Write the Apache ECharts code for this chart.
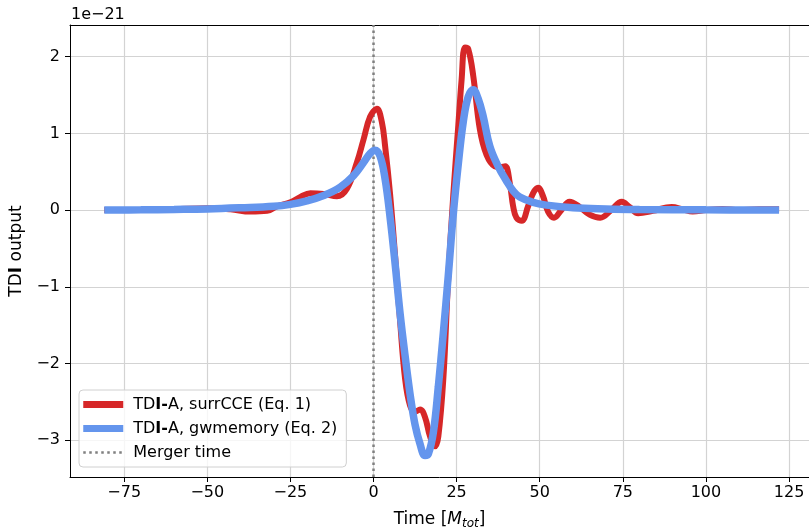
<!DOCTYPE html>
<html>
<head>
<meta charset="utf-8">
<script src="https://cdn.jsdelivr.net/npm/echarts@6/dist/echarts.min.js"></script>
<style>
  html, body { margin: 0; padding: 0; background: #fff; }
  #chart { width: 809px; height: 528px; }
</style>
</head>
<body>
<div id="chart"></div>
<script>
// values are in units of 1e-21
var surrT = [-81,-70,-60,-50,-43,-37,-32,-29,-25,-22,-19,-15,-11,-8,-5,-3,-1,1,2.5,3.5,5,6.5,8,9.5,11,12.5,14,15.5,17,18.5,19.5,21,22.4,24,25.5,26.5,27.5,28.5,30,32,34,36.5,38,39.6,41,42,43,44.6,46.5,48,49.5,51,52.5,54.3,56.5,59,62,65,68.2,71.5,74.7,77,79.6,84,89.7,93,96,100,105,110,116,122];
var surrV = [0,0,0.01,0.025,0.01,-0.02,-0.01,0.05,0.1,0.17,0.22,0.21,0.18,0.28,0.62,0.92,1.22,1.32,1.15,0.83,0.2,-0.6,-1.45,-2.2,-2.55,-2.63,-2.6,-2.7,-2.95,-3.08,-2.95,-2.2,-0.95,0.2,1.1,1.7,2.12,2.1,1.75,1.05,0.72,0.57,0.56,0.57,0.35,0.05,-0.1,-0.14,0.05,0.22,0.29,0.18,-0.02,-0.1,0.0,0.11,0.04,-0.06,-0.1,0.0,0.11,0.04,-0.04,-0.01,0.04,0.01,-0.02,0.0,0.015,0.0,0.01,0.01];

var memT = [-81,-70,-60,-50,-40,-30,-25,-20,-15,-10,-6,-3,-1,0.5,2,3.5,5,6.5,8,9.5,11,12.5,14,15.5,16.5,18,19.5,21,22.5,24,25.5,27,28.5,30,31.5,33,35,37.5,40,42,44,48,52,60,70,80,100,122];
var memV = [0,0.003,0.008,0.015,0.03,0.05,0.075,0.12,0.19,0.3,0.45,0.62,0.74,0.78,0.7,0.4,-0.1,-0.7,-1.35,-1.9,-2.4,-2.8,-3.05,-3.2,-3.18,-2.9,-2.3,-1.6,-0.85,-0.05,0.6,1.15,1.48,1.57,1.45,1.22,0.83,0.57,0.38,0.25,0.17,0.1,0.065,0.03,0.015,0.008,0.003,0.002];

var mergerTime = [0];

var xTicks = [-75, -50, -25, 0, 25, 50, 75, 100, 125];
var yTicks = [-3, -2, -1, 0, 1, 2];

var nameSurr = 'TDI-A, surrCCE (Eq. 1)';
var nameMem = 'TDI-A, gwmemory (Eq. 2)';
var nameMerger = 'Merger time';

var xMin = -91.3, xMax = 131;
var yMin = -3.48, yMax = 2.413;

function pairs(t, v) {
  var out = [];
  for (var i = 0; i < t.length; i++) out.push([t[i], v[i]]);
  return out;
}
function minus(v) { return String(v).replace('-', '\u2212'); }

var FONT = 'DejaVu Sans';
var chart = echarts.init(document.getElementById('chart'));

var option = {
  animation: false,
  backgroundColor: '#fff',
  grid: { left: 70, top: 25, right: 0, bottom: 51, containLabel: false, outerBoundsMode: 'none' },
  graphic: [{
    type: 'text', left: 71, top: 7,
    style: { text: '1e\u221221', font: '16px "DejaVu Sans"', fill: '#000' }
  }],
  legend: {
    orient: 'vertical',
    left: 79, top: 390,
    padding: [5, 9, 5, 3],
    itemGap: 5,
    itemWidth: 40, itemHeight: 7,
    backgroundColor: 'rgba(255,255,255,0.8)',
    borderColor: '#d0d0d0', borderWidth: 1, borderRadius: 4,
    data: [
      { name: nameSurr, icon: 'rect' },
      { name: nameMem, icon: 'rect' },
      { name: nameMerger, itemStyle: { color: 'rgba(0,0,0,0)', borderWidth: 0 },
        lineStyle: { color: '#808080', width: 2.5, type: [2.5, 3.5] } }
    ],
    formatter: function (n) { return n.replace('TDI-A', 'TD{b|I-}A'); },
    textStyle: {
      fontFamily: FONT, fontSize: 16, lineHeight: 19, color: '#000', padding: [0, 0, 0, 5],
      rich: { b: { fontFamily: FONT, fontSize: 16, lineHeight: 19, fontWeight: 'bold', color: '#000' } }
    }
  },
  xAxis: [{
    type: 'value', min: xMin, max: xMax,
    name: 'Time [{i|M}{s|tot}]',
    nameLocation: 'middle', nameGap: 33,
    nameTextStyle: {
      fontFamily: FONT, fontSize: 17, color: '#000',
      rich: {
        i: { fontFamily: FONT, fontSize: 17, fontStyle: 'italic', color: '#000' },
        s: { fontFamily: FONT, fontSize: 12, fontStyle: 'italic', color: '#000', verticalAlign: 'bottom', padding: [8, 0, 0, 0] }
      }
    },
    axisLine: { show: true, onZero: false, lineStyle: { color: '#000', width: 1 } },
    axisTick: { show: true, length: 5, customValues: xTicks, lineStyle: { color: '#000', width: 1 } },
    axisLabel: { customValues: xTicks, margin: 8, fontFamily: FONT, fontSize: 16, color: '#000', formatter: minus },
    splitLine: { show: true, lineStyle: { color: '#d3d3d3', width: 1.2 } }
  }, {
    type: 'value', position: 'top', min: xMin, max: xMax,
    axisLine: { show: true, onZero: false, lineStyle: { color: '#000', width: 1 } },
    axisTick: { show: false }, axisLabel: { show: false }, splitLine: { show: false }
  }],
  yAxis: {
    type: 'value', min: yMin, max: yMax,
    name: 'TD{b|I} output',
    nameLocation: 'middle', nameGap: 44, nameRotate: 90,
    nameTextStyle: {
      fontFamily: FONT, fontSize: 17, color: '#000',
      rich: { b: { fontFamily: FONT, fontSize: 17, fontWeight: 'bold', color: '#000' } }
    },
    axisLine: { show: true, onZero: false, lineStyle: { color: '#000', width: 1 } },
    axisTick: { show: true, length: 5, customValues: yTicks, lineStyle: { color: '#000', width: 1 } },
    axisLabel: { customValues: yTicks, margin: 10, fontFamily: FONT, fontSize: 16, color: '#000', formatter: minus },
    splitLine: { show: true, lineStyle: { color: '#d3d3d3', width: 1.2 } }
  },
  series: [{
    name: nameMerger, type: 'line', xAxisIndex: 0, symbol: 'none', z: 1,
    data: [[mergerTime[0], yMin], [mergerTime[0], yMax]],
    lineStyle: { color: '#808080', width: 2.5, type: [2.5, 3.5] },
    itemStyle: { color: '#808080' }
  }, {
    name: nameSurr, type: 'line', xAxisIndex: 0, symbol: 'none', smooth: 0.4, z: 2,
    data: pairs(surrT, surrV),
    lineStyle: { color: '#d62728', width: 6 },
    itemStyle: { color: '#d62728' }
  }, {
    name: nameMem, type: 'line', xAxisIndex: 0, symbol: 'none', smooth: 0.4, z: 3,
    data: pairs(memT, memV),
    lineStyle: { color: '#6495ed', width: 7.5 },
    itemStyle: { color: '#6495ed' }
  }]
};
chart.setOption(option);
</script>
</body>
</html>
